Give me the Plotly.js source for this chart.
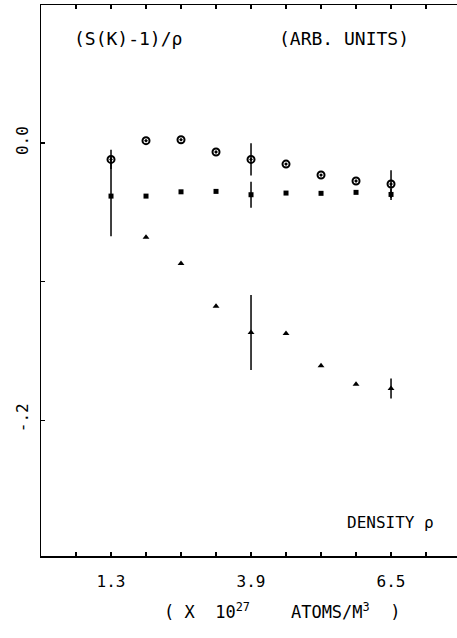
<!DOCTYPE html>
<html>
<head>
<meta charset="utf-8">
<script src="https://cdn.plot.ly/plotly-3.0.1.min.js"></script>
<style>html,body{margin:0;padding:0;background:#fff;overflow:hidden;}</style>
</head>
<body>
<div id="chart" style="width:457px;height:638px;"></div>
<script>
// Density (x 10^27 atoms/m^3)
const density = [1.3, 1.95, 2.6, 3.25, 3.9, 4.55, 5.2, 5.85, 6.5];
// (S(K)-1)/rho, arbitrary units
const circleVals   = [-0.0118, 0.0017, 0.0024, -0.0065, -0.0118, -0.0152, -0.0231, -0.0274, -0.0296];
const circleErr    = [0.007, 0, 0, 0, 0.0116, 0, 0, 0, 0.010];
const squareVals   = [-0.0383, -0.0383, -0.0352, -0.0349, -0.0373, -0.0361, -0.0363, -0.0356, -0.0371];
const squareErr    = [0.029, 0, 0, 0, 0.0094, 0, 0, 0, 0.004];
const triangleVals = [null, -0.068, -0.0869, -0.1177, -0.1367, -0.1374, -0.1608, -0.174, -0.1771];
const triangleErr  = [0, 0, 0, 0, 0.027, 0, 0, 0, 0.0072];

const xTickVals = [1.3, 3.9, 6.5];
const xTickText = ['1.3', '3.9', '6.5'];
const yTickVals = [0, -0.2];
const yTickText = ['0.0', '-.2'];

const FONT = 'DejaVu Sans Mono, monospace';
const errStyle = {type: 'data', visible: true, thickness: 1.5, width: 0, color: '#000'};

const traces = [
  {x: density, y: circleVals, mode: 'markers', type: 'scatter',
   marker: {symbol: 'circle-open-dot', size: 7, color: '#000', line: {width: 2, color: '#000'}},
   error_y: Object.assign({array: circleErr}, errStyle)},
  {x: density, y: squareVals, mode: 'markers', type: 'scatter',
   marker: {symbol: 'square', size: 5, color: '#000'},
   error_y: Object.assign({array: squareErr}, errStyle)},
  {x: density, y: triangleVals, mode: 'markers', type: 'scatter',
   marker: {symbol: 'triangle-up', size: 6, color: '#000'},
   error_y: Object.assign({array: triangleErr}, errStyle)}
];

const layout = {
  width: 457, height: 638,
  margin: {l: 41, r: 0, t: 5, b: 82},
  paper_bgcolor: '#fff', plot_bgcolor: '#fff',
  showlegend: false,
  font: {family: FONT, color: '#000', size: 16},
  xaxis: {
    range: [0, 7.725], showgrid: false, zeroline: false,
    showline: true, linecolor: '#000', linewidth: 1.5, mirror: 'ticks',
    ticks: 'inside', ticklen: 4, tickwidth: 1.2, tickcolor: '#000',
    tickmode: 'array', tickvals: xTickVals, ticktext: xTickText,
    minor: {tickmode: 'linear', tick0: 0, dtick: 0.65, ticks: 'inside', ticklen: 4, tickwidth: 1.2, tickcolor: '#000', showgrid: false},
    tickfont: {family: FONT, size: 16}, ticklabelstandoff: 10
  },
  yaxis: {
    range: [-0.298, 0.0996], showgrid: false, zeroline: false,
    showline: true, linecolor: '#000', linewidth: 1.5,
    ticks: 'inside', ticklen: 4, tickwidth: 1.2, tickcolor: '#000',
    tickmode: 'array', tickvals: yTickVals, ticktext: yTickText,
    minor: {tickmode: 'linear', tick0: 0, dtick: 0.1, ticks: 'inside', ticklen: 4, tickwidth: 1.2, tickcolor: '#000', showgrid: false},
    tickangle: -90, tickfont: {family: FONT, size: 16}, ticklabelstandoff: 5
  },
  annotations: [
    {text: '(S(K)-1)/ρ', xref: 'x', yref: 'y', x: (72-41)/53.85, y: (143-38.5)/1385,
     xanchor: 'left', yanchor: 'middle', showarrow: false, font: {family: FONT, size: 18}},
    {text: '(ARB. UNITS)', xref: 'x', yref: 'y', x: (277-41)/53.85, y: (143-38.5)/1385,
     xanchor: 'left', yanchor: 'middle', showarrow: false, font: {family: FONT, size: 18}},
    {text: 'DENSITY ρ', xref: 'x', yref: 'y', x: (345-41)/53.85, y: (143-522.7)/1385,
     xanchor: 'left', yanchor: 'middle', showarrow: false, font: {family: FONT, size: 16}},
    {text: '( X  10<sup>27</sup>    ATOMS/M<sup>3</sup>  )', xref: 'paper', yref: 'paper',
     x: (162-41)/416, y: -(611-556)/551, xanchor: 'left', yanchor: 'middle',
     showarrow: false, font: {family: FONT, size: 17}}
  ]
};

Plotly.newPlot('chart', traces, layout, {displayModeBar: false, staticPlot: true});
</script>
</body>
</html>
